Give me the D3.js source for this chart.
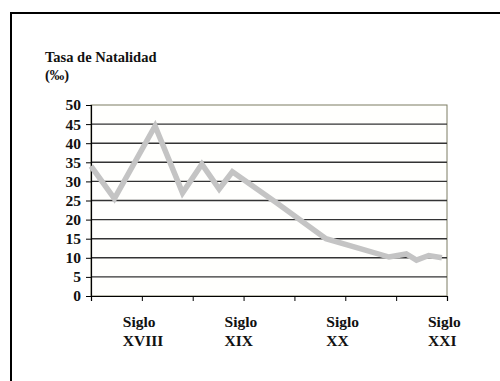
<!DOCTYPE html>
<html>
<head>
<meta charset="utf-8">
<script src="https://cdn.jsdelivr.net/npm/d3@7"></script>
<style>
  body { margin: 0; background: #fff; }
</style>
</head>
<body>
<script>
// Chart data
let years = [1650, 1673, 1713, 1740, 1759, 1776, 1789, 1832, 1881, 1943, 1960, 1970, 1982, 1995];
let rates = [34, 25.5, 44.5, 27, 34.5, 28, 32.5, 24.5, 15, 10.2, 11, 9.4, 10.6, 10];
let centuryYears = [1700, 1800, 1900, 2000];
let centuryLabels = ["XVIII", "XIX", "XX", "XXI"];
let yTicks = [0, 5, 10, 15, 20, 25, 30, 35, 40, 45, 50];

let svgWidth = 500;
let svgHeight = 381;
let serif = "'Liberation Serif', 'Times New Roman', serif";

let plot = { left: 91, right: 447, top: 105, bottom: 296 };

let svg = d3.select("body")
  .append("svg")
  .attr("width", svgWidth)
  .attr("height", svgHeight);

// outer frame (only top and left show in the picture)
svg.append("rect")
  .attr("x", 11)
  .attr("y", 13)
  .attr("width", 520)
  .attr("height", 400)
  .attr("fill", "none")
  .attr("stroke", "#000")
  .attr("stroke-width", 2);

let xScale = d3.scaleLinear()
  .domain([1650, 2000])
  .range([plot.left, plot.right]);

let yScale = d3.scaleLinear()
  .domain([0, 50])
  .range([plot.bottom, plot.top]);

// plot background
svg.append("rect")
  .attr("x", plot.left)
  .attr("y", plot.top)
  .attr("width", plot.right - plot.left)
  .attr("height", plot.bottom - plot.top)
  .attr("fill", "#fffffd")
  .attr("stroke", "#7d7d62")
  .attr("stroke-width", 1);

// horizontal grid lines
svg.append("g")
  .selectAll("line")
  .data(yTicks.filter(d => d > 0 && d < 50))
  .enter()
  .append("line")
  .attr("x1", plot.left)
  .attr("x2", plot.right)
  .attr("y1", d => yScale(d))
  .attr("y2", d => yScale(d))
  .attr("stroke", "#333")
  .attr("stroke-width", 1.4);

// y axis
let yAxis = d3.axisLeft(yScale)
  .tickValues(yTicks)
  .tickSize(5)
  .tickPadding(5);

let yG = svg.append("g")
  .attr("transform", `translate(${plot.left},0)`)
  .call(yAxis);
yG.select(".domain").attr("stroke", "#000").attr("stroke-width", 1.2);
yG.selectAll(".tick line").attr("stroke", "#000");
yG.selectAll(".tick text")
  .style("font-family", serif)
  .style("font-weight", "bold")
  .style("font-size", "15.5px")
  .attr("fill", "#111");

// x axis, ticks every half century
let xAxis = d3.axisBottom(xScale)
  .tickValues(d3.range(1650, 2001, 50))
  .tickSize(5)
  .tickFormat("");

let xG = svg.append("g")
  .attr("transform", `translate(0,${plot.bottom})`)
  .call(xAxis);
xG.select(".domain").attr("stroke", "#000").attr("stroke-width", 1.2);
xG.selectAll(".tick line").attr("stroke", "#000");

// century labels: two lines, left aligned inside a block centred on the tick
let labelG = svg.append("g")
  .selectAll("g")
  .data(centuryYears)
  .enter()
  .append("g")
  .attr("transform", d => `translate(${xScale(d) - 19},0)`);

labelG.append("text")
  .attr("y", 327)
  .style("font-family", serif)
  .style("font-weight", "bold")
  .style("font-size", "15.5px")
  .attr("fill", "#111")
  .text("Siglo");

labelG.append("text")
  .attr("y", 346)
  .style("font-family", serif)
  .style("font-weight", "bold")
  .style("font-size", "15.5px")
  .attr("fill", "#111")
  .text((d, i) => centuryLabels[i]);

// the series
let line = d3.line()
  .x((d, i) => xScale(years[i]))
  .y(d => yScale(d));

svg.append("path")
  .datum(rates)
  .attr("d", line)
  .attr("fill", "none")
  .attr("stroke", "#c4c4c4")
  .attr("stroke-width", 5.5)
  .attr("stroke-linejoin", "miter");

// axis title
svg.append("text")
  .attr("x", 45)
  .attr("y", 62)
  .style("font-family", serif)
  .style("font-weight", "bold")
  .style("font-size", "14.5px")
  .attr("fill", "#111")
  .text("Tasa de Natalidad");

svg.append("text")
  .attr("x", 45)
  .attr("y", 80)
  .style("font-family", serif)
  .style("font-weight", "bold")
  .style("font-size", "14.5px")
  .attr("fill", "#111")
  .text("(‰)");
</script>
</body>
</html>
